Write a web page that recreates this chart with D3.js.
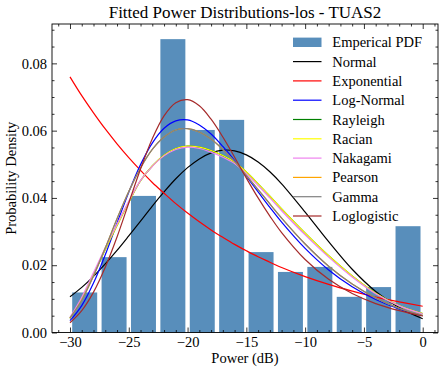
<!DOCTYPE html>
<html>
<head>
<meta charset="utf-8">
<script src="https://cdn.jsdelivr.net/npm/d3@7"></script>
<style>
  body { margin: 0; background: #fff; }
  svg { display: block; font-family: "Liberation Serif", "DejaVu Serif", serif; }
  .tick text { font-family: "Liberation Serif", serif; }
</style>
</head>
<body>
<svg id="chart" width="444" height="374"></svg>
<script>

// histogram of received power (density), 12 bins of 2.5 dB
const binEdges = [-30, -27.5, -25, -22.5, -20, -17.5, -15, -12.5, -10, -7.5, -5, -2.5, 0];
const empiricalPdf = [0.0119, 0.0224, 0.0406, 0.0872, 0.0602, 0.0632, 0.0239, 0.0180, 0.0195, 0.0106, 0.0135, 0.0316];

// points where the fitted curves are read
const powerDb = [-30, -29, -28, -27, -26, -25, -24, -23, -22, -21, -20, -19, -18, -17, -16, -15, -14, -13, -12, -10, -8, -6, -4, -2, 0];

const normal      = [0.0106, 0.0134, 0.0167, 0.0204, 0.0244, 0.0287, 0.0331, 0.0376, 0.0418, 0.0457, 0.0490, 0.0516, 0.0534, 0.0542, 0.0540, 0.0528, 0.0507, 0.0478, 0.0442, 0.0358, 0.0270, 0.0188, 0.0122, 0.0074, 0.0041];
const exponential = [0.0760, 0.0704, 0.0653, 0.0605, 0.0561, 0.0520, 0.0482, 0.0446, 0.0414, 0.0383, 0.0355, 0.0329, 0.0305, 0.0283, 0.0262, 0.0243, 0.0225, 0.0209, 0.0193, 0.0166, 0.0143, 0.0123, 0.0105, 0.0091, 0.0078];
const logNormal   = [0.0035, 0.0080, 0.0147, 0.0231, 0.0325, 0.0417, 0.0499, 0.0563, 0.0607, 0.0629, 0.0632, 0.0617, 0.0590, 0.0553, 0.0511, 0.0464, 0.0418, 0.0372, 0.0328, 0.0250, 0.0186, 0.0136, 0.0098, 0.0070, 0.0050];
const rayleigh    = [0.0042, 0.0100, 0.0172, 0.0247, 0.0318, 0.0387, 0.0451, 0.0495, 0.0527, 0.0547, 0.0554, 0.0551, 0.0541, 0.0526, 0.0506, 0.0477, 0.0442, 0.0405, 0.0367, 0.0295, 0.0228, 0.0168, 0.0117, 0.0080, 0.0056];
const racian      = [0.0042, 0.0100, 0.0172, 0.0247, 0.0318, 0.0387, 0.0451, 0.0495, 0.0527, 0.0547, 0.0554, 0.0551, 0.0541, 0.0526, 0.0506, 0.0477, 0.0442, 0.0405, 0.0367, 0.0295, 0.0228, 0.0168, 0.0117, 0.0080, 0.0056];
const nakagami    = [0.0045, 0.0105, 0.0178, 0.0252, 0.0322, 0.0390, 0.0452, 0.0494, 0.0525, 0.0544, 0.0551, 0.0547, 0.0536, 0.0521, 0.0502, 0.0472, 0.0437, 0.0400, 0.0362, 0.0290, 0.0224, 0.0165, 0.0115, 0.0079, 0.0055];
const pearson     = [0.0043, 0.0096, 0.0168, 0.0251, 0.0338, 0.0419, 0.0489, 0.0544, 0.0581, 0.0602, 0.0606, 0.0596, 0.0575, 0.0544, 0.0508, 0.0467, 0.0425, 0.0382, 0.0340, 0.0263, 0.0197, 0.0144, 0.0103, 0.0072, 0.0050];
const gamma       = [0.0043, 0.0096, 0.0168, 0.0251, 0.0338, 0.0419, 0.0489, 0.0544, 0.0581, 0.0602, 0.0606, 0.0596, 0.0575, 0.0544, 0.0508, 0.0467, 0.0425, 0.0382, 0.0340, 0.0263, 0.0197, 0.0144, 0.0103, 0.0072, 0.0050];
const loglogistic = [0.0029, 0.0065, 0.0120, 0.0194, 0.0284, 0.0385, 0.0486, 0.0576, 0.0644, 0.0683, 0.0692, 0.0674, 0.0634, 0.0581, 0.0521, 0.0459, 0.0400, 0.0346, 0.0297, 0.0217, 0.0158, 0.0116, 0.0086, 0.0065, 0.0049];

const seriesNames = ["Normal", "Exponential", "Log-Normal", "Rayleigh", "Racian", "Nakagami", "Pearson", "Gamma", "Loglogistic"];
const seriesValues = [normal, exponential, logNormal, rayleigh, racian, nakagami, pearson, gamma, loglogistic];
const seriesColors = ["#000000", "#ff0000", "#0000ff", "#008000", "#ffff00", "#ee82ee", "#ffa500", "#808080", "#a52a2a"];

const xTicks = [-30, -25, -20, -15, -10, -5, 0];
const yTicks = [0, 0.02, 0.04, 0.06, 0.08];

const svg = d3.select("#chart");
const margin = { left: 52, right: 438, top: 24, bottom: 332.5 };

const x = d3.scaleLinear().domain([-31.53, 1.3]).range([margin.left, margin.right]);
const y = d3.scaleLinear().domain([0, 0.0917]).range([margin.bottom, margin.top]);

const barColor = "#4682b4";
const rwidth = 0.85;

// bars
svg.append("g")
  .selectAll("rect")
  .data(empiricalPdf)
  .enter().append("rect")
  .attr("x", (d, i) => {
    const w = binEdges[i + 1] - binEdges[i];
    return x(binEdges[i] + w * (1 - rwidth) / 2);
  })
  .attr("width", (d, i) => (x(binEdges[i + 1]) - x(binEdges[i])) * rwidth)
  .attr("y", d => y(d))
  .attr("height", d => y(0) - y(d))
  .attr("fill", barColor)
  .attr("fill-opacity", 0.9);

// fitted curves
const line = d3.line()
  .x((d, i) => x(powerDb[i]))
  .y(d => y(d))
  .curve(d3.curveCatmullRom.alpha(0.5));

seriesValues.forEach((vals, k) => {
  svg.append("path")
    .attr("d", line(vals))
    .attr("fill", "none")
    .attr("stroke", seriesColors[k])
    .attr("stroke-width", 1.2);
});

// axes, ticks pointing inward on all four sides
const minorX = d3.range(-31, 2, 1).filter(v => v % 5 !== 0);
const minorY = d3.range(0.005, 0.0917, 0.005).filter(v => Math.abs(v / 0.02 - Math.round(v / 0.02)) > 1e-6);

function styleAxis(g) {
  g.select(".domain").remove();
  g.selectAll(".tick line").attr("stroke", "#000").attr("stroke-width", 0.8);
  g.selectAll(".tick text").attr("fill", "#000").style("font-size", "14.5px");
}

svg.append("g").attr("transform", `translate(0,${margin.bottom})`)
  .call(d3.axisBottom(x).tickValues(xTicks).tickSize(-5).tickPadding(4).tickFormat(d3.format("d")))
  .call(styleAxis);
svg.append("g").attr("transform", `translate(0,${margin.bottom})`)
  .call(d3.axisBottom(x).tickValues(minorX).tickSize(-2.5).tickFormat(""))
  .call(styleAxis);
svg.append("g").attr("transform", `translate(0,${margin.top})`)
  .call(d3.axisTop(x).tickValues(xTicks).tickSize(-5).tickFormat(""))
  .call(styleAxis);
svg.append("g").attr("transform", `translate(0,${margin.top})`)
  .call(d3.axisTop(x).tickValues(minorX).tickSize(-2.5).tickFormat(""))
  .call(styleAxis);

svg.append("g").attr("transform", `translate(${margin.left},0)`)
  .call(d3.axisLeft(y).tickValues(yTicks).tickSize(-5).tickPadding(5).tickFormat(d3.format(".2f")))
  .call(styleAxis);
svg.append("g").attr("transform", `translate(${margin.left},0)`)
  .call(d3.axisLeft(y).tickValues(minorY).tickSize(-2.5).tickFormat(""))
  .call(styleAxis);
svg.append("g").attr("transform", `translate(${margin.right},0)`)
  .call(d3.axisRight(y).tickValues(yTicks).tickSize(-5).tickFormat(""))
  .call(styleAxis);
svg.append("g").attr("transform", `translate(${margin.right},0)`)
  .call(d3.axisRight(y).tickValues(minorY).tickSize(-2.5).tickFormat(""))
  .call(styleAxis);

svg.append("rect")
  .attr("x", margin.left).attr("y", margin.top)
  .attr("width", margin.right - margin.left).attr("height", margin.bottom - margin.top)
  .attr("fill", "none").attr("stroke", "#000").attr("stroke-width", 0.9);

// labels
svg.append("text")
  .attr("x", (margin.left + margin.right) / 2).attr("y", 18)
  .attr("text-anchor", "middle").style("font-size", "17px")
  .text("Fitted Power Distributions-los - TUAS2");

svg.append("text")
  .attr("x", (margin.left + margin.right) / 2).attr("y", 363)
  .attr("text-anchor", "middle").style("font-size", "14.5px")
  .text("Power (dB)");

svg.append("text")
  .attr("transform", `translate(15.5,${(margin.top + margin.bottom) / 2}) rotate(-90)`)
  .attr("text-anchor", "middle").style("font-size", "14.5px")
  .text("Probability Density");

// legend
const legend = svg.append("g").attr("transform", "translate(293,42.3)");
const rowH = 19.3;

legend.append("rect")
  .attr("x", 0).attr("y", -4.7).attr("width", 28.5).attr("height", 9.4)
  .attr("fill", barColor).attr("fill-opacity", 0.9);
legend.append("text")
  .attr("x", 39.3).attr("y", 5).style("font-size", "14.5px")
  .text("Emperical PDF");

seriesNames.forEach((name, k) => {
  const row = legend.append("g").attr("transform", `translate(0,${(k + 1) * rowH})`);
  row.append("line")
    .attr("x1", 0).attr("x2", 28.5).attr("y1", 0).attr("y2", 0)
    .attr("stroke", seriesColors[k]).attr("stroke-width", 1.2);
  row.append("text")
    .attr("x", 39.3).attr("y", 5).style("font-size", "14.5px")
    .text(name);
});

</script>
</body>
</html>
